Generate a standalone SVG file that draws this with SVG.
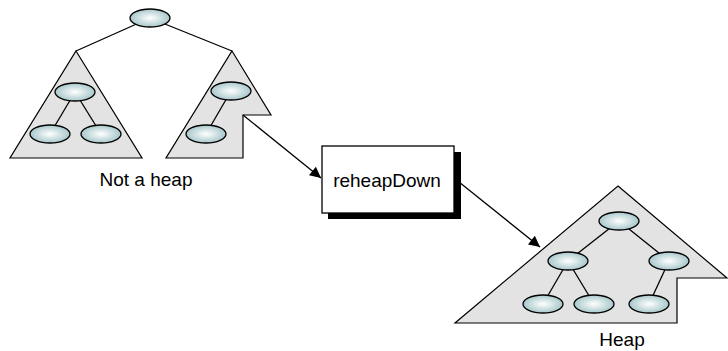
<svg xmlns="http://www.w3.org/2000/svg" width="728" height="351" viewBox="0 0 728 351">
<defs>
<radialGradient id="g" cx="0.5" cy="0.5" r="0.55">
<stop offset="0" stop-color="#ffffff"/>
<stop offset="1" stop-color="#9fc2c6"/>
</radialGradient>
<marker id="ah" viewBox="0 0 10 10" refX="10" refY="5" markerWidth="14" markerHeight="11" markerUnits="userSpaceOnUse" orient="auto">
<path d="M0,0 L10,5 L0,10 z" fill="#000"/>
</marker>
</defs>
<style>
.tri{fill:#e3e3e3;stroke:#000;stroke-width:1.2}
.nd{fill:url(#g);stroke:#000;stroke-width:1.3}
.ln{stroke:#000;stroke-width:1.3;fill:none}
.lbl{font-family:"Liberation Sans",Arial,sans-serif;font-size:19px;fill:#000;text-anchor:middle}
</style>
<g id="not-heap">
<line class="ln" x1="150" y1="18" x2="76" y2="51"/>
<line class="ln" x1="150" y1="18" x2="232" y2="51"/>
<polygon class="tri" points="76,51 142,158 10,158"/>
<polygon class="tri" points="232,51 271,115 243,115 243,158 166,158"/>
<line class="ln" x1="75" y1="92" x2="50" y2="134"/>
<line class="ln" x1="75" y1="92" x2="101" y2="134"/>
<line class="ln" x1="231" y1="91" x2="206" y2="134"/>
<ellipse class="nd" cx="150" cy="18" rx="20" ry="9"/>
<ellipse class="nd" cx="75" cy="92" rx="20" ry="9"/>
<ellipse class="nd" cx="50" cy="134" rx="20" ry="9"/>
<ellipse class="nd" cx="101" cy="134" rx="20" ry="9"/>
<ellipse class="nd" cx="231" cy="91" rx="20" ry="9"/>
<ellipse class="nd" cx="206" cy="134" rx="20" ry="9"/>
<text class="lbl" x="146" y="186">Not a heap</text>
</g>
<g id="reheapDown">
<rect x="328" y="152" width="133" height="67" fill="#000"/>
<rect x="322" y="146" width="132" height="67" fill="#fff" stroke="#000" stroke-width="1.3"/>
<text class="lbl" x="387" y="187">reheapDown</text>
</g>
<g id="heap">
<polygon class="tri" points="618,186 727,278 677,278 677,323 455,323"/>
<line class="ln" x1="619" y1="221" x2="568" y2="261"/>
<line class="ln" x1="619" y1="221" x2="669" y2="261"/>
<line class="ln" x1="568" y1="261" x2="543" y2="304"/>
<line class="ln" x1="568" y1="261" x2="594" y2="304"/>
<line class="ln" x1="669" y1="261" x2="649" y2="304"/>
<ellipse class="nd" cx="619" cy="221" rx="20" ry="9"/>
<ellipse class="nd" cx="568" cy="261" rx="20" ry="9"/>
<ellipse class="nd" cx="669" cy="261" rx="20" ry="9"/>
<ellipse class="nd" cx="543" cy="304" rx="20" ry="9"/>
<ellipse class="nd" cx="594" cy="304" rx="20" ry="9"/>
<ellipse class="nd" cx="649" cy="304" rx="20" ry="9"/>
<text class="lbl" x="622" y="346">Heap</text>
</g>
<g id="connectors">
<line class="ln" x1="243" y1="115" x2="321" y2="178" marker-end="url(#ah)"/>
<line class="ln" x1="454" y1="178" x2="540" y2="247" marker-end="url(#ah)"/>
</g>
</svg>
